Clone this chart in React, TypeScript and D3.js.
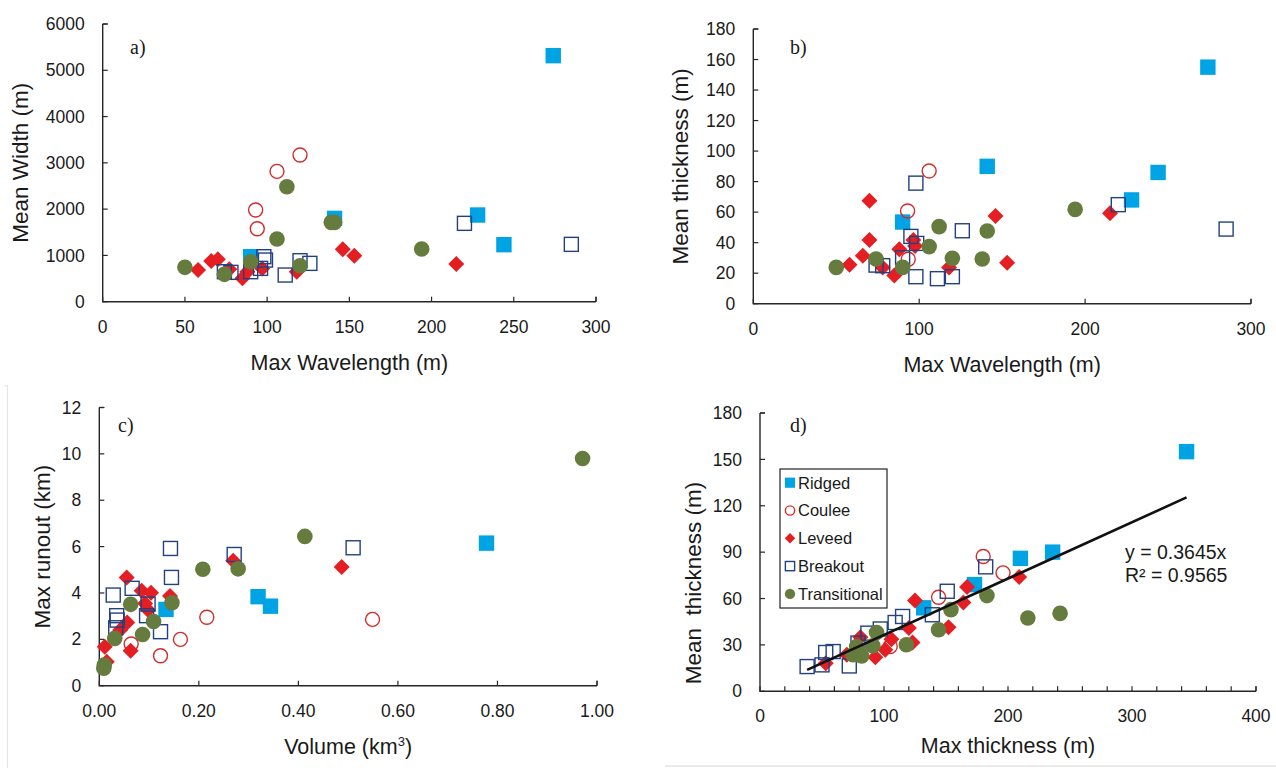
import React from 'react';
import * as d3 from 'd3';

type Pt = [number, number];

const seriesNames = ['Ridged', 'Coulee', 'Leveed', 'Breakout', 'Transitional'];

// a) max wavelength (m) vs mean width (m)
const aRidged: Pt[] = [[274, 5316], [228, 1873], [244, 1232], [141, 1800], [90, 972]];
const aCoulee: Pt[] = [[120, 3169], [106, 2816], [93, 1981], [94, 1577]];
const aLeveed: Pt[] = [[58, 684], [66, 879], [70, 915], [77, 699], [85, 504], [88, 648], [97, 720], [118, 648], [146, 1131], [153, 994], [215, 814]];
const aBreakout: Pt[] = [[74, 648], [78, 634], [90, 648], [98, 972], [99, 900], [96, 720], [111, 576], [120, 886], [126, 828], [220, 1693], [285, 1239]];
const aTransitional: Pt[] = [[50, 742], [74, 591], [90, 864], [112, 2485], [106, 1354], [120, 778], [139, 1714], [141, 1714], [194, 1138]];

// b) max wavelength (m) vs mean thickness (m)
const bRidged: Pt[] = [[274, 155], [141, 90], [244, 86], [228, 68], [90, 53.5]];
const bCoulee: Pt[] = [[106, 87], [93, 60.7], [93.4, 29.1]];
const bLeveed: Pt[] = [[70, 67.5], [70, 41.7], [66, 31.5], [58, 25.6], [88, 35.6], [96.5, 41.7], [97.5, 37.8], [78, 23.8], [85, 18.4], [118, 23.8], [146, 57.5], [153, 26.9], [215, 59.2]];
const bBreakout: Pt[] = [[98, 79], [74, 25.3], [78, 24.9], [90, 30.1], [95, 44.1], [98.5, 39.5], [98, 17.7], [111, 16.4], [120, 17.7], [126, 47.8], [220, 64.9], [285, 48.9]];
const bTransitional: Pt[] = [[50, 23.8], [74, 29.3], [90, 23.8], [106, 37.4], [112, 50.5], [120, 29.7], [138, 29.3], [141, 47.6], [194, 61.8]];

// c) volume (km3) vs max runout (km)
const cRidged: Pt[] = [[0.778, 6.15], [0.319, 3.84], [0.344, 3.43], [0.134, 3.29]];
const cCoulee: Pt[] = [[0.216, 2.95], [0.549, 2.86], [0.163, 2.0], [0.064, 1.8], [0.123, 1.29]];
const cLeveed: Pt[] = [[0.055, 4.67], [0.085, 4.1], [0.104, 4.01], [0.142, 3.87], [0.092, 3.55], [0.098, 3.26], [0.056, 2.73], [0.042, 2.4], [0.011, 1.68], [0.015, 1.03], [0.063, 1.51], [0.269, 5.39], [0.487, 5.12]];
const cBreakout: Pt[] = [[0.143, 5.92], [0.271, 5.66], [0.51, 5.95], [0.145, 4.67], [0.066, 4.2], [0.028, 3.91], [0.098, 3.52], [0.035, 3.02], [0.036, 2.83], [0.033, 2.5], [0.095, 3.02], [0.123, 2.33]];
const cTransitional: Pt[] = [[0.971, 9.8], [0.413, 6.44], [0.208, 5.02], [0.279, 5.04], [0.063, 3.51], [0.146, 3.58], [0.109, 2.77], [0.087, 2.21], [0.031, 2.04], [0.01, 0.89], [0.009, 0.75]];

// d) max thickness (m) vs mean thickness (m)
const dRidged: Pt[] = [[344, 155], [236, 90], [210, 86], [173, 69], [132, 54]];
const dCoulee: Pt[] = [[180, 87.2], [196, 76.6], [144, 60.8], [105, 29]];
const dLeveed: Pt[] = [[125, 58.8], [167, 67.5], [164, 57.5], [209, 74], [152, 41.5], [120, 40.9], [123, 31.5], [106, 33.7], [81, 35], [101, 26.8], [93, 22.1], [70, 23.6], [53, 18.2]];
const dBreakout: Pt[] = [[38, 16], [50, 17.1], [53, 25.1], [59, 25.7], [72, 16.4], [79, 31.2], [87, 37.6], [97, 40.3], [109, 44.5], [115, 48.4], [139, 49.5], [151, 64.7], [182, 80.5]];
const dTransitional: Pt[] = [[242, 50.4], [216, 47.4], [183, 61.9], [154, 52.8], [144, 39.8], [118, 30.1], [94, 38], [91, 29.4], [82, 22.9], [75, 23.6], [78, 29]];
const trendSlope = 0.3645;
const trendLabel = ['y = 0.3645x', 'R² = 0.9565'];

// ticks
const aXTicks = [0, 50, 100, 150, 200, 250, 300];
const aYTicks = [0, 1000, 2000, 3000, 4000, 5000, 6000];
const bXTicks = [0, 100, 200, 300];
const bYTicks = [0, 20, 40, 60, 80, 100, 120, 140, 160, 180];
const cXTicks = [0, 0.2, 0.4, 0.6, 0.8, 1.0];
const cYTicks = [0, 2, 4, 6, 8, 10, 12];
const dXTicks = [0, 100, 200, 300, 400];
const dXMinor = d3.range(0, 401, 20);
const dYTicks = [0, 30, 60, 90, 120, 150, 180];

const FONT = 'Arial, "Liberation Sans", Helvetica, sans-serif';
const SERIF = '"Times New Roman", "Liberation Serif", serif';
const COLORS = {
  ridged: '#00A3E3',
  coulee: '#D42A2A',
  leveed: '#E41E22',
  breakout: '#23417F',
  transitional: '#667B3E',
};

function Marker({ kind, x, y, s = 1 }: { kind: number; x: number; y: number; s?: number }) {
  if (kind === 0) {
    const h = 7.7 * s;
    return <rect x={x - h} y={y - h} width={h * 2} height={h * 2} fill={COLORS.ridged} />;
  }
  if (kind === 1) {
    return <circle cx={x} cy={y} r={7 * s} fill="none" stroke={COLORS.coulee} strokeWidth={1.4} />;
  }
  if (kind === 2) {
    const r = 8 * s;
    return <path d={`M${x},${y - r}L${x + r},${y}L${x},${y + r}L${x - r},${y}Z`} fill={COLORS.leveed} />;
  }
  if (kind === 3) {
    const h = 7 * s;
    return <rect x={x - h} y={y - h} width={h * 2} height={h * 2} fill="none" stroke={COLORS.breakout} strokeWidth={1.4} />;
  }
  return <circle cx={x} cy={y} r={7.8 * s} fill={COLORS.transitional} />;
}

type PanelCfg = {
  letter: string;
  letterPos: Pt;
  left: number; right: number; top: number; bottom: number;
  xDomain: Pt; yDomain: Pt;
  xTicks: number[]; yTicks: number[]; xMinor?: number[];
  fmtX: (v: number) => string;
  xTitle: React.ReactNode; yTitle: string;
  xTitleY: number; yTitleX: number; yTitleY?: number;
  series: Pt[][];
  trend?: boolean;
};

function Panel({ cfg }: { cfg: PanelCfg }) {
  const x = d3.scaleLinear().domain(cfg.xDomain).range([cfg.left, cfg.right]);
  const y = d3.scaleLinear().domain(cfg.yDomain).range([cfg.bottom, cfg.top]);
  const ax = '#262626';
  const trendPts = cfg.trend ? d3.extent(cfg.series.flat().map((p) => p[0])) as Pt : null;
  const line = d3.line<Pt>().x((d) => x(d[0])).y((d) => y(d[1]));
  return (
    <g>
      {cfg.yTicks.map((t) => (
        <g key={'y' + t}>
          <line x1={cfg.left} x2={cfg.left + 5} y1={y(t)} y2={y(t)} stroke={ax} strokeWidth={1.2} />
          <text x={cfg.left - 18} y={y(t)} dy="0.35em" textAnchor="end" fontSize={17.5} fill="#1a1a1a">{t}</text>
        </g>
      ))}
      {(cfg.xMinor || cfg.xTicks).map((t) => (
        <line key={'xm' + t} x1={x(t)} x2={x(t)} y1={cfg.bottom} y2={cfg.bottom - 5} stroke={ax} strokeWidth={1.2} />
      ))}
      {cfg.xTicks.map((t) => (
        <text key={'x' + t} x={x(t)} y={cfg.bottom + 31} textAnchor="middle" fontSize={17.5} fill="#1a1a1a">{cfg.fmtX(t)}</text>
      ))}
      <path d={`M${cfg.left},${cfg.top}V${cfg.bottom}H${cfg.right}`} fill="none" stroke={ax} strokeWidth={1.4} />
      <line x1={cfg.left} x2={cfg.left + 5} y1={cfg.top} y2={cfg.top} stroke={ax} strokeWidth={1.2} />
      <line x1={cfg.right} x2={cfg.right} y1={cfg.bottom} y2={cfg.bottom - 5} stroke={ax} strokeWidth={1.2} />
      <text x={(cfg.left + cfg.right) / 2} y={cfg.xTitleY} textAnchor="middle" fontSize={21.5} fill="#1a1a1a">{cfg.xTitle}</text>
      <text
        transform={`translate(${cfg.yTitleX},${cfg.yTitleY ?? (cfg.top + cfg.bottom) / 2}) rotate(-90)`}
        textAnchor="middle" fontSize={22.5} fill="#1a1a1a" style={{ whiteSpace: 'pre' }}
      >{cfg.yTitle}</text>
      <text x={cfg.letterPos[0]} y={cfg.letterPos[1]} fontFamily={SERIF} fontSize={20} fill="#1a1a1a">{cfg.letter}</text>
      {cfg.series.map((pts, k) => (
        <g key={'s' + k}>
          {pts.map((p, i) => <Marker key={i} kind={k} x={x(p[0])} y={y(p[1])} />)}
        </g>
      ))}
      {trendPts && (
        <path d={line([[trendPts[0], trendPts[0] * trendSlope], [trendPts[1], trendPts[1] * trendSlope]]) || ''} stroke="#111" strokeWidth={2.6} fill="none" />
      )}
    </g>
  );
}

const panels: PanelCfg[] = [
  {
    letter: 'a)', letterPos: [130, 54],
    left: 102.7, right: 596, top: 24, bottom: 301.7,
    xDomain: [0, 300], yDomain: [0, 6000],
    xTicks: aXTicks, yTicks: aYTicks, fmtX: (v) => String(v),
    xTitle: 'Max Wavelength (m)', yTitle: 'Mean Width (m)', xTitleY: 370, yTitleX: 28,
    series: [aRidged, aCoulee, aLeveed, aBreakout, aTransitional],
  },
  {
    letter: 'b)', letterPos: [790, 54],
    left: 753.3, right: 1251, top: 29, bottom: 303.7,
    xDomain: [0, 300], yDomain: [0, 180],
    xTicks: bXTicks, yTicks: bYTicks, fmtX: (v) => String(v),
    xTitle: 'Max Wavelength (m)', yTitle: 'Mean thickness (m)', xTitleY: 372, yTitleX: 688,
    series: [bRidged, bCoulee, bLeveed, bBreakout, bTransitional],
  },
  {
    letter: 'c)', letterPos: [118, 432],
    left: 99.3, right: 597, top: 407.5, bottom: 685.7,
    xDomain: [0, 1], yDomain: [0, 12],
    xTicks: cXTicks, yTicks: cYTicks, fmtX: (v) => v.toFixed(2),
    xTitle: <>Volume (km<tspan dy={-8} fontSize={13}>3</tspan><tspan dy={8}>)</tspan></>,
    yTitle: 'Max runout (km)', xTitleY: 754, yTitleX: 50,
    series: [cRidged, cCoulee, cLeveed, cBreakout, cTransitional],
  },
  {
    letter: 'd)', letterPos: [790, 432],
    left: 760, right: 1256, top: 413, bottom: 691.3,
    xDomain: [0, 400], yDomain: [0, 180],
    xTicks: dXTicks, yTicks: dYTicks, xMinor: dXMinor, fmtX: (v) => String(v),
    xTitle: 'Max thickness (m)', yTitle: 'Mean  thickness (m)', xTitleY: 753, yTitleX: 701, yTitleY: 583,
    series: [dRidged, dCoulee, dLeveed, dBreakout, dTransitional], trend: true,
  },
];

export default function App() {
  return (
    <svg width={1276} height={768} style={{ position: 'absolute', left: 0, top: 0, background: '#fff' }} fontFamily={FONT}>
      <line x1={7.5} x2={7.5} y1={386} y2={768} stroke="#e4e4e4" strokeWidth={1.2} />
      <line x1={4} x2={8} y1={386} y2={386} stroke="#e4e4e4" strokeWidth={1.2} />
      <line x1={665} x2={1276} y1={766} y2={766} stroke="#e4e4e4" strokeWidth={1.5} />
      {panels.map((p) => <Panel key={p.letter} cfg={p} />)}
      {/* legend of panel d */}
      <rect x={780} y={469} width={107} height={139} fill="#fff" stroke="#222" strokeWidth={1.2} />
      {seriesNames.map((n, i) => (
        <g key={n}>
          <Marker kind={i} x={790} y={482.7 + i * 27.8} s={0.66} />
          <text x={798} y={482.7 + i * 27.8} dy="0.36em" fontSize={16.5} fill="#1a1a1a">{n}</text>
        </g>
      ))}
      {trendLabel.map((t, i) => (
        <text key={t} x={1125} y={559 + i * 22.7} fontSize={19.5} fill="#1a1a1a">{t}</text>
      ))}
    </svg>
  );
}
